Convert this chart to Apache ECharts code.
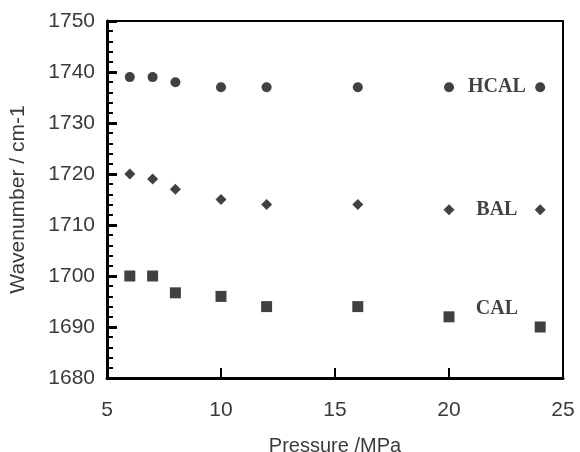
<!DOCTYPE html>
<html>
<head>
<meta charset="utf-8">
<script src="https://cdn.jsdelivr.net/npm/echarts@6/dist/echarts.min.js"></script>
<style>html,body{margin:0;padding:0;background:#fff}#c{width:580px;height:452px}</style>
</head>
<body>
<div id="c"></div>
<script>
const pressure = [6, 7, 8, 10, 12, 16, 20, 24];
const hcal = [1739, 1739, 1738, 1737, 1737, 1737, 1737, 1737];
const bal = [1720, 1719, 1717, 1715, 1714, 1714, 1713, 1713];
const cal = [1700, 1700, 1696.7, 1696, 1694, 1694, 1692, 1690];
const seriesNames = ['HCAL', 'BAL', 'CAL'];
const labelAnchors = [[22.1, 1737], [22.1, 1713], [22.1, 1693.5]];

const chart = echarts.init(document.getElementById('c'));
const mk = (vals) => pressure.map((p, i) => [p, vals[i]]);
const textColor = '#3a3a3a';
const symbols = ['circle', 'diamond', 'rect'];
const sizes = [10, 11, 11];
const data = [hcal, bal, cal];

const pointSeries = seriesNames.map((n, k) => ({
  name: n, type: 'scatter', symbol: symbols[k], symbolSize: sizes[k],
  itemStyle: {color: '#111'},
  data: mk(data[k])
}));
const labelSeries = {
  type: 'scatter', symbolSize: 0, silent: true,
  data: seriesNames.map((n, k) => ({value: labelAnchors[k], name: n})),
  label: {show: true, position: 'inside', formatter: (p) => p.name, fontFamily: 'Liberation Serif, Times New Roman', fontWeight: 'bold', fontSize: 20, color: '#111'}
};

chart.setOption({
  animation: false,
  grid: {left: 107, top: 21, right: 17, bottom: 74, outerBoundsMode: 'none'},
  xAxis: [{
    type: 'value', min: 5, max: 25, interval: 5,
    name: 'Pressure /MPa', nameLocation: 'middle', nameGap: 58,
    nameTextStyle: {fontFamily: 'Liberation Sans, Arial', fontSize: 20, color: textColor},
    axisLine: {show: true, onZero: false, lineStyle: {color: '#000', width: 3}},
    axisTick: {show: true, inside: true, length: 10, lineStyle: {color: '#000', width: 2}},
    axisLabel: {fontFamily: 'Liberation Sans, Arial', fontSize: 21, color: textColor, margin: 22},
    splitLine: {show: false}
  }, {
    type: 'value', min: 5, max: 25, position: 'top',
    axisLine: {show: true, onZero: false, lineStyle: {color: '#000', width: 2}},
    axisTick: {show: false}, axisLabel: {show: false}, splitLine: {show: false}
  }],
  yAxis: [{
    type: 'value', min: 1680, max: 1750, interval: 10,
    name: 'Wavenumber / cm-1', nameLocation: 'middle', nameGap: 78, nameRotate: 90,
    nameTextStyle: {fontFamily: 'Liberation Sans, Arial', fontSize: 21, color: textColor},
    axisLine: {show: true, onZero: false, lineStyle: {color: '#000', width: 3}},
    axisTick: {show: true, inside: true, length: 10, lineStyle: {color: '#000', width: 3}},
    minorTick: {show: true, splitNumber: 5, length: 6, lineStyle: {color: '#000', width: 2}},
    axisLabel: {fontFamily: 'Liberation Sans, Arial', fontSize: 21, color: textColor, margin: 12, formatter: (v) => String(v)},
    splitLine: {show: false}
  }, {
    type: 'value', min: 1680, max: 1750, position: 'right',
    axisLine: {show: true, onZero: false, lineStyle: {color: '#000', width: 2}},
    axisTick: {show: false}, axisLabel: {show: false}, splitLine: {show: false}
  }],
  series: pointSeries.concat([labelSeries])
});
</script>
</body>
</html>
